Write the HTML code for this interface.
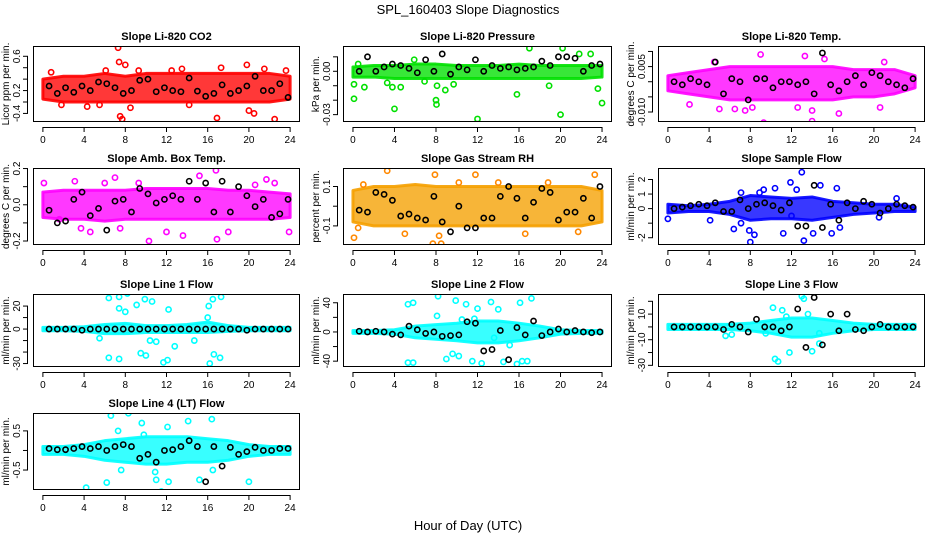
<!DOCTYPE html>
<html><head><meta charset="utf-8"><style>
html,body{margin:0;padding:0;background:#fff;}
svg{display:block;font-family:"Liberation Sans",sans-serif;}
</style></head><body>
<svg id="chart" width="936" height="540" viewBox="0 0 936 540">
<text x="468" y="14" text-anchor="middle" font-size="13">SPL_160403  Slope Diagnostics</text>
<text x="468" y="530" text-anchor="middle" font-size="13">Hour of Day (UTC)</text>
</svg>
<script>
// ---- shared data ----
const xTicks = [0,4,8,12,16,20,24];
const bandHours = [0,2,4,6,8,10,12,14,16,18,20,22,24];
const blackHours = [0.6,1.4,2.2,3.0,3.8,4.6,5.4,6.2,7.0,7.8,8.6,9.4,10.2,11.0,11.8,12.6,13.4,14.2,15.0,15.8,16.6,17.4,18.2,19.0,19.8,20.6,21.4,22.2,23.0,23.8];

// ---- panel titles / labels ----
const titles = ["Slope Li-820 CO2","Slope Li-820 Pressure","Slope Li-820 Temp.","Slope Amb. Box Temp.","Slope Gas Stream RH","Slope Sample Flow","Slope Line 1 Flow","Slope Line 2 Flow","Slope Line 3 Flow","Slope Line 4 (LT) Flow"];
const yTitles = ["Licor ppm per min.","kPa per min.","degrees C per min.","degrees C per min.","percent per min.","ml/min per min.","ml/min per min.","ml/min per min.","ml/min per min.","ml/min per min."];
const colors = ["#ff0000","#00e000","#ff00ff","#ff00ff","#f5a000","#0000ff","#00ffff","#00ffff","#00ffff","#00ffff"];

// ---- y ticks (value) and which are labelled ----
const yTicks1 = [-0.4,-0.2,0,0.2,0.4,0.6];  const yLab1 = ["-0.4","","0.2","","","0.6"];
const yTicks2 = [-0.03,-0.02,-0.01,0,0.01]; const yLab2 = ["-0.03","","","0.00",""];
const yTicks3 = [-0.01,-0.005,0,0.005,0.01]; const yLab3 = ["-0.010","","","0.005",""];
const yTicks4 = [-0.2,-0.1,0,0.1,0.2];     const yLab4 = ["-0.2","","0.0","","0.2"];
const yTicks5 = [-0.1,0,0.1];               const yLab5 = ["-0.1","","0.1"];
const yTicks6 = [-2,-1,0,1,2];              const yLab6 = ["-2","","0","1","2"];
const yTicks7 = [-30,-20,-10,0,10,20];      const yLab7 = ["-30","","","0","","20"];
const yTicks8 = [-40,-20,0,20,40];          const yLab8 = ["-40","","0","","40"];
const yTicks9 = [-30,-20,-10,0,10,20];      const yLab9 = ["-30","","-10","","10",""];
const yTicks10 = [-0.5,0,0.5];              const yLab10 = ["-0.5","","0.5"];

// ---- y limits ----
const yLims = [[-0.55,0.78],[-0.0351,0.0175],[-0.0133,0.0118],[-0.222,0.203],[-0.197,0.194],[-2.5,2.79],[-33,30.5],[-48,52],[-31.3,25.7],[-1.01,0.957]];

// ---- band envelopes (dense cloud of points) ----
const bandLo1 = [-0.15,-0.2,-0.2,-0.2,-0.2,-0.2,-0.2,-0.2,-0.2,-0.2,-0.2,-0.2,-0.15];
const bandHi1 = [0.2,0.25,0.25,0.3,0.25,0.3,0.3,0.3,0.3,0.3,0.3,0.3,0.25];
const bandLo2 = [-0.004,-0.004,-0.005,-0.005,-0.005,-0.005,-0.005,-0.005,-0.005,-0.005,-0.005,-0.005,-0.004];
const bandHi2 = [0.003,0.004,0.004,0.005,0.005,0.004,0.004,0.004,0.005,0.004,0.004,0.004,0.004];
const bandLo3 = [-0.003,-0.004,-0.005,-0.006,-0.006,-0.006,-0.006,-0.006,-0.006,-0.005,-0.005,-0.004,-0.002];
const bandHi3 = [0.002,0.003,0.004,0.005,0.005,0.005,0.005,0.005,0.005,0.004,0.004,0.004,0.002];
const bandLo4 = [-0.07,-0.08,-0.08,-0.09,-0.08,-0.08,-0.08,-0.08,-0.08,-0.08,-0.08,-0.08,-0.07];
const bandHi4 = [0.07,0.08,0.08,0.08,0.08,0.09,0.09,0.09,0.09,0.08,0.08,0.07,0.06];
const bandLo5 = [-0.08,-0.1,-0.1,-0.1,-0.1,-0.1,-0.1,-0.1,-0.1,-0.1,-0.1,-0.1,-0.08];
const bandHi5 = [0.08,0.1,0.1,0.11,0.1,0.1,0.1,0.1,0.1,0.1,0.1,0.1,0.08];
const bandLo6 = [-0.3,-0.2,-0.2,-0.4,-0.8,-0.7,-0.7,-0.8,-0.6,-0.4,-0.3,-0.2,-0.2];
const bandHi6 = [0.3,0.2,0.3,0.5,0.9,0.8,0.7,0.8,0.5,0.4,0.3,0.3,0.1];
const bandLo7 = [-1.5,-1.5,-2,-4,-4,-3,-3,-3,-3,-2,-1.5,-1.5,-1.5];
const bandHi7 = [1.5,1.5,2,4,5,3,3,4,6,3,1.5,1.5,1.5];
const bandLo8 = [-2,-2,-3,-8,-10,-12,-15,-15,-12,-8,-3,-2,-2];
const bandHi8 = [2,2,3,8,10,12,15,15,12,8,3,2,2];
const bandLo9 = [-2,-2,-2,-2,-3,-5,-8,-8,-5,-3,-2,-2,-2];
const bandHi9 = [2,2,2,2,3,5,7,7,5,3,2,2,2];
const bandLo10 = [-0.1,-0.1,-0.15,-0.25,-0.3,-0.35,-0.35,-0.3,-0.3,-0.25,-0.15,-0.1,-0.1];
const bandHi10 = [0.1,0.1,0.15,0.25,0.3,0.35,0.35,0.35,0.3,0.25,0.15,0.1,0.1];

// ---- outlier points (hour, value) ----
const outX1 = [0.8,1.8,4.3,5.5,6.1,7.3,7.4,7.5,7.7,8.0,8.5,9.3,12.5,13.5,14.2,16.9,17.3,19.8,20.0,20.5,21.5,22.5,23.6];
const outY1 = [0.32,-0.25,-0.28,-0.25,0.35,0.75,0.5,-0.45,-0.5,0.45,-0.3,0.35,0.35,0.38,-0.25,-0.48,0.4,0.45,-0.35,-0.4,0.38,-0.5,0.35];
const outX2 = [0.1,0.1,0.5,1.1,3.3,3.8,4.0,4.6,5.9,6.9,8.0,8.05,8.1,8.9,9.7,12.0,15.8,17.0,18.9,20.0,20.2,21.8,22.9,23.6,24.0];
const outY2 = [-0.019,-0.009,0.005,-0.011,-0.008,-0.011,-0.026,-0.011,0.008,-0.007,-0.02,-0.023,-0.01,-0.013,-0.009,-0.033,-0.016,0.016,-0.01,-0.03,0.016,0.012,0.012,-0.012,-0.022];
const outX3 = [2.1,4.5,5.0,6.5,7.5,8.2,9.0,9.3,12.6,13.3,14.0,14.0,15.2,16.6,20.6,21.0];
const outY3 = [-0.0075,0.0065,-0.009,-0.009,-0.0095,-0.0085,0.009,-0.0135,-0.0085,0.0085,-0.0095,-0.013,0.0075,-0.0105,-0.0085,0.0065];
const outX4 = [0.1,1.6,3.1,3.7,4.6,6.0,7.0,7.5,9.3,10.3,12.0,13.6,15.2,16.8,16.9,18.0,20.6,21.7,22.5,23.9];
const outY4 = [0.12,-0.08,0.13,-0.13,-0.15,0.12,0.15,-0.13,0.12,-0.2,-0.15,-0.17,0.16,0.19,-0.19,-0.15,0.11,0.14,0.12,-0.15];
const outX5 = [0.1,0.5,1.0,3.3,5.0,7.7,7.9,8.3,8.5,10.2,11.8,14.0,16.6,18.8,21.7,23.3];
const outY5 = [-0.16,-0.11,0.11,0.18,-0.14,-0.19,0.16,-0.15,-0.19,0.12,0.16,0.12,-0.14,0.12,-0.13,0.16];
const outX6 = [0,4.1,6.4,7.1,7.1,7.9,8.0,8.4,8.9,9.3,10.4,11.2,11.9,12.0,12.5,13.0,13.2,14.1,14.8,15.9,16.4,16.7,20.5,22.2];
const outY6 = [-0.7,-0.8,-1.4,-1.0,1.1,-1.5,-2.3,-1.8,1.1,1.3,1.4,-1.7,1.8,-0.5,1.3,2.5,-2.2,-1.7,1.6,-1.7,1.4,-1.3,-0.6,0.7];
const outX7 = [5.5,6.4,6.4,7.4,7.4,7.4,8.0,8.2,9.1,9.5,9.9,10.0,10.4,10.6,11.0,11.7,12.1,12.2,12.8,14.7,16.0,16.1,16.2,16.5,16.6,17.2,17.3];
const outY7 = [-8,27,-25,28,-26,18,15,31,21,-21,26,-23,-10,24,-11,-29,-27,17,-15,-10,10,20,-30,26,-22,-25,28];
const outX8 = [5.3,5.3,5.8,5.8,8.1,8.2,9.0,9.6,9.9,10.2,10.5,10.9,11.5,11.7,12.0,12.4,13.3,13.6,14.0,14.5,15.1,15.8,16.1,16.3,16.8,17.2];
const outY8 = [38,-42,40,-42,22,49,-37,-30,43,-33,17,38,-40,18,32,-43,41,-8,31,-41,-18,-44,40,-40,-40,46];
const outX9 = [5.6,6.2,9.5,10.2,10.4,10.7,11.1,11.5,11.8,13.0,13.2,13.6,14.0,14.7,14.7];
const outY9 = [-7,-6,-5,15,-25,-27,13,8,-20,24,22,10,-19,-13,-5];
const outX10 = [4.2,6.2,6.6,7.3,7.6,8.3,9.6,9.8,10.9,11.0,11.5,12.1,12.2,14.1,15.2,16.4,16.5,20.0];
const outY10 = [-0.95,-0.82,0.89,0.5,-0.5,0.95,0.7,0.4,-0.55,-0.75,-1.05,0.6,-0.8,0.75,-0.75,0.8,-0.5,-0.8];

// ---- black (current-period) points, one value per blackHours entry ----
const black1 = [0.08,-0.05,0.05,-0.03,0.08,0.0,0.15,0.12,0.05,-0.05,0.0,0.18,0.2,-0.02,0.05,0.0,-0.02,0.22,-0.01,-0.1,-0.05,0.1,-0.05,0.0,0.08,0.25,0.0,0.0,0.12,-0.12];
const black2 = [0.0,0.01,0.0,0.003,0.005,0.004,0.002,-0.001,0.008,0.0,0.012,-0.002,0.003,0.001,0.008,0.0,0.004,0.002,0.003,0.001,0.002,0.003,0.007,0.004,0.01,0.01,0.009,0.0,0.004,0.005];
const black3 = [0.0,-0.001,0.001,0.0,-0.001,0.0065,-0.004,0.001,0.0,-0.006,0.001,0.001,-0.002,0.0,0.0,-0.001,0.0,-0.004,0.0095,-0.001,-0.003,0.0,0.002,-0.001,0.003,0.002,0.0,-0.001,-0.002,0.001];
const black4 = [-0.03,-0.1,-0.09,0.03,0.07,-0.06,-0.02,-0.14,0.02,0.03,-0.04,0.09,0.06,0.01,0.03,0.05,0.03,0.13,0.03,0.12,-0.04,0.13,-0.04,0.1,0.05,-0.01,0.03,-0.07,-0.05,0.03];
const black5 = [-0.02,-0.03,0.07,0.06,0.03,-0.05,-0.04,-0.06,-0.07,0.05,-0.08,-0.13,0.0,-0.11,-0.11,-0.06,-0.06,0.05,0.1,0.04,-0.06,0.02,0.09,0.07,-0.07,-0.03,-0.03,0.04,-0.06,0.1];
const black6 = [0.0,0.1,0.2,0.3,0.2,0.4,-0.2,-0.2,0.6,0.0,0.3,0.4,0.2,-0.1,0.4,-1.2,-1.2,1.6,-1.3,0.3,-0.8,0.4,0.0,0.5,0.3,-0.3,0.0,0.3,0.2,0.1];
const black7 = [0,0,0,0,-1,0,0,0,0,0,0,0,0,0,0,0,0,0,0,0,0,0,0,0,-1,0,0,0,0,0];
const black8 = [1,0,1,0,-3,-4,8,3,-2,0,-6,-5,-4,14,12,-26,-24,2,-38,6,-4,15,-5,0,4,0,2,0,-1,0];
const black9 = [0,0,0,0,0,0,-2,2,0,-4,6,0,0,-3,0,14,-16,23,-14,10,-3,10,-2,-3,0,2,0,0,0,0];
const black10 = [0.05,0.02,0.02,0.05,0.1,0.05,0.1,0.0,0.1,0.15,0.1,-0.2,-0.1,-0.3,0.0,0.02,0.1,0.25,0.1,-0.8,0.1,-0.4,0.08,-0.1,-0.03,0.08,0.0,0.0,0.05,0.05];

const yTicksAll = [yTicks1,yTicks2,yTicks3,yTicks4,yTicks5,yTicks6,yTicks7,yTicks8,yTicks9,yTicks10];
const yLabAll = [yLab1,yLab2,yLab3,yLab4,yLab5,yLab6,yLab7,yLab8,yLab9,yLab10];
const bandLoAll = [bandLo1,bandLo2,bandLo3,bandLo4,bandLo5,bandLo6,bandLo7,bandLo8,bandLo9,bandLo10];
const bandHiAll = [bandHi1,bandHi2,bandHi3,bandHi4,bandHi5,bandHi6,bandHi7,bandHi8,bandHi9,bandHi10];
const outXAll = [outX1,outX2,outX3,outX4,outX5,outX6,outX7,outX8,outX9,outX10];
const outYAll = [outY1,outY2,outY3,outY4,outY5,outY6,outY7,outY8,outY9,outY10];
const blackAll = [black1,black2,black3,black4,black5,black6,black7,black8,black9,black10];

const NS = "http://www.w3.org/2000/svg";
const svg = document.getElementById("chart");
const cols = [[33,300],[343,612],[658,925]];
const rows = [[46,122],[168,245],[294,367],[413,490]];
const slugs = ["co2","pressure","li820-temp","amb-box-temp","gas-stream-rh","sample-flow","line1-flow","line2-flow","line3-flow","line4-flow"];

function mk(tag, attrs, parent){
  const e = document.createElementNS(NS, tag);
  for (const k in attrs) e.setAttribute(k, attrs[k]);
  parent.appendChild(e);
  return e;
}

for (let p = 0; p < 10; p++) {
  const c = cols[p % 3], r = rows[Math.floor(p / 3)];
  const L = c[0], R = c[1], T = r[0], B = r[1];
  const yl = yLims[p];
  const sx = h => L + (h + 0.96) / 25.92 * (R - L);
  const sy = v => B - (v - yl[0]) / (yl[1] - yl[0]) * (B - T);
  const g = mk("g", {}, svg);
  
  
  const col = colors[p];

  const cp = mk("clipPath", {id: "clip" + p}, g);
  mk("rect", {x: L, y: T, width: R - L, height: B - T}, cp);
  const pg = mk("g", {"clip-path": "url(#clip" + p + ")"}, g);

  let pts = [];
  for (let i = 0; i < bandHours.length; i++) pts.push(sx(bandHours[i]) + "," + sy(bandHiAll[p][i]));
  for (let i = bandHours.length - 1; i >= 0; i--) pts.push(sx(bandHours[i]) + "," + sy(bandLoAll[p][i]));
  const band = mk("polygon", {points: pts.join(" "), fill: col, "fill-opacity": "0.78", stroke: col, "stroke-width": "3", "stroke-opacity": "0.9", "stroke-linejoin": "round"}, pg);
  
  

  for (let i = 0; i < outXAll[p].length; i++) {
    const o = mk("circle", {cx: sx(outXAll[p][i]), cy: sy(outYAll[p][i]), r: 2.6, fill: "none", stroke: p === 4 ? "#ff8800" : col, "stroke-width": 1.6}, pg);
    
    
  }
  for (let i = 0; i < blackHours.length; i++) {
    const b = mk("circle", {cx: sx(blackHours[i]), cy: sy(blackAll[p][i]), r: 2.6, fill: "none", stroke: "#000", "stroke-width": 1.6}, pg);
    
    
  }

  const box = mk("rect", {x: L + 0.5, y: T + 0.5, width: R - L - 1, height: B - T - 1, fill: "none", stroke: "#000", "stroke-width": 1}, g);
  
  

  const t = mk("text", {x: (L + R) / 2, y: T - 6, "text-anchor": "middle", "font-size": "11", "font-weight": "bold"}, g);
  t.textContent = titles[p];
  
  

  mk("line", {x1: sx(0), x2: sx(24), y1: B + 5.5, y2: B + 5.5, stroke: "#000"}, g);
  xTicks.forEach(h => {
    mk("line", {x1: sx(h), x2: sx(h), y1: B + 5, y2: B + 10, stroke: "#000"}, g);
    const tx = mk("text", {x: sx(h), y: B + 21, "text-anchor": "middle", "font-size": "10"}, g);
    tx.textContent = h;
    
    
  });

  const yt = yTicksAll[p];
  mk("line", {x1: L - 5.5, x2: L - 5.5, y1: sy(yt[0]), y2: sy(yt[yt.length - 1]), stroke: "#000"}, g);
  yt.forEach((v, i) => {
    mk("line", {x1: L - 10, x2: L - 5, y1: sy(v), y2: sy(v), stroke: "#000"}, g);
    const lab = yLabAll[p][i];
    if (lab) {
      const ty = mk("text", {x: 0, y: 0, "text-anchor": "middle", "font-size": "10", transform: "translate(" + (L - 13) + "," + sy(v) + ") rotate(-90)"}, g);
      ty.textContent = lab;
      
      
    }
  });
  const ytl = mk("text", {x: 0, y: 0, "text-anchor": "middle", "font-size": "10", transform: "translate(" + (L - 24) + "," + ((T + B) / 2) + ") rotate(-90)"}, g);
  ytl.textContent = yTitles[p];
  
  
}
</script>
</body></html>
